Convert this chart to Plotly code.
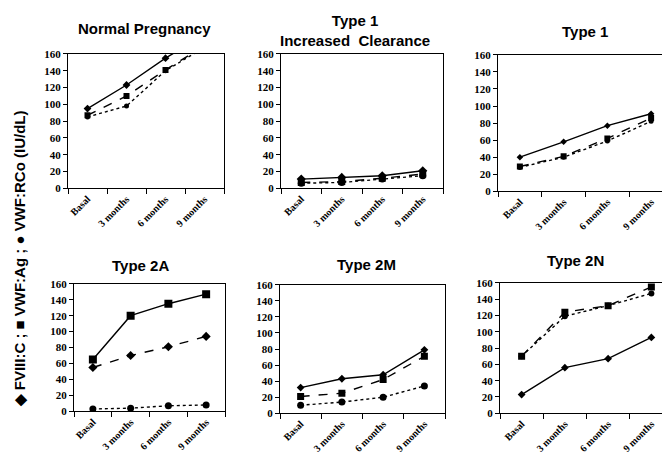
import plotly.graph_objects as go

W, H = 670, 460

categories = ["Basal", "3 months", "6 months", "9 months"]
panel_titles = ["Normal Pregnancy", "Type 1<br>Increased  Clearance", "Type 1",
                "Type 2A", "Type 2M", "Type 2N"]

# values (IU/dL) per panel
normal_fviii = [95, 123, 155, 183]
normal_vwf_ag = [87, 110, 141, 170]
normal_vwf_rco = [85, 98, 140, 168]

t1ic_fviii = [11, 13, 15, 21]
t1ic_vwf_ag = [7, 8, 12, 17]
t1ic_vwf_rco = [6, 7, 11, 15]

t1_fviii = [40, 58, 77, 91]
t1_vwf_ag = [29, 41, 62, 86]
t1_vwf_rco = [28, 40, 59, 82]

t2a_fviii = [55, 70, 81, 94]
t2a_vwf_ag = [65, 120, 135, 147]
t2a_vwf_rco = [3, 4, 7, 8]

t2m_fviii = [32, 43, 48, 79]
t2m_vwf_ag = [21, 25, 42, 71]
t2m_vwf_rco = [10, 14, 20, 34]

t2n_fviii = [23, 56, 67, 93]
t2n_vwf_ag = [70, 124, 132, 155]
t2n_vwf_rco = [70, 119, 132, 147]

y_ticks = [0, 20, 40, 60, 80, 100, 120, 140, 160]

panels_data = [
    (normal_fviii, normal_vwf_ag, normal_vwf_rco),
    (t1ic_fviii, t1ic_vwf_ag, t1ic_vwf_rco),
    (t1_fviii, t1_vwf_ag, t1_vwf_rco),
    (t2a_fviii, t2a_vwf_ag, t2a_vwf_rco),
    (t2m_fviii, t2m_vwf_ag, t2m_vwf_rco),
    (t2n_fviii, t2n_vwf_ag, t2n_vwf_rco),
]

# --- styling / layout (pixels) ---
boxes = [  # x0, x1, ytop, ybottom
    (60, 216, 41, 179),
    (273, 435, 41, 179),
    (490, 665, 42, 182),
    (66, 217, 277, 408),
    (272, 437, 278, 410),
    (492, 665, 276, 410),
]
title_pos = [(136, 15), (347, 17), (577, 18), (132, 258), (358, 257), (567, 253)]
# dash style per series (FVIII, Ag, RCo) per panel
dashes = [
    ("solid", "dash", "dot"),
    ("solid", "dash", "dot"),
    ("solid", "dash", "dot"),
    ("dash", "solid", "dot"),
    ("solid", "dash", "dot"),
    ("solid", "dash", "dot"),
]
symbols = ("diamond", "square", "circle")
msizes = [(6, 6, 5), (7, 7, 7), (5, 6, 5), (7, 8, 7), (6, 7, 7), (6, 7, 6)]
names = ("FVIII:C", "VWF:Ag", "VWF:RCo")

fig = go.Figure()
layout = dict(width=W, height=H, autosize=False,
              margin=dict(l=0, r=0, t=0, b=0),
              paper_bgcolor="white", plot_bgcolor="white",
              showlegend=False)
annotations = []

tickfont = dict(family="Liberation Serif", size=11, color="black", weight="bold")
xtickfont = dict(family="Liberation Serif", size=10, color="black", weight="bold")

for i, (data, box) in enumerate(zip(panels_data, boxes)):
    n = i + 1
    xa = "x" if n == 1 else f"x{n}"
    ya = "y" if n == 1 else f"y{n}"
    for j, vals in enumerate(data):
        fig.add_trace(go.Scatter(
            x=categories, y=vals, xaxis=xa, yaxis=ya, mode="lines+markers",
            name=names[j],
            line=dict(color="black", width=1.4, dash=dashes[i][j]),
            marker=dict(symbol=symbols[j], size=msizes[i][j], color="black"),
        ))
    x0, x1, yt, yb = box
    layout[f"xaxis{'' if n == 1 else n}"] = dict(
        domain=[x0 / W, x1 / W], anchor=ya, type="category",
        range=[-0.5, 3.5], tickson="boundaries", ticks="outside", ticklen=5,
        tickcolor="black", showline=True, linecolor="black", linewidth=1,
        mirror=True, showgrid=False, zeroline=False, tickangle=-45,
        tickfont=xtickfont, fixedrange=True)
    layout[f"yaxis{'' if n == 1 else n}"] = dict(
        domain=[1 - yb / H, 1 - yt / H], anchor=xa, range=[0, 160],
        tickvals=y_ticks, ticks="outside", ticklen=4, tickcolor="black",
        showline=True, linecolor="black", linewidth=1, mirror=True,
        showgrid=False, zeroline=False, tickfont=tickfont, fixedrange=True)
    tx, ty = title_pos[i]
    annotations.append(dict(
        text=panel_titles[i], x=tx / W, y=1 - ty / H, xref="paper", yref="paper",
        showarrow=False, xanchor="center", yanchor="middle",
        font=dict(family="Liberation Sans", size=15, color="black", weight="bold")))

annotations.append(dict(
    text="\u25c6 FVIII:C ; \u25a0 VWF:Ag ; \u25cf VWF:RCo (IU/dL)",
    x=11 / W, y=1 - 252 / H, xref="paper", yref="paper", showarrow=False,
    textangle=-90, xanchor="center", yanchor="middle",
    font=dict(family="Liberation Sans", size=15, color="black", weight="bold")))

layout["annotations"] = annotations
fig.update_layout(**layout)
fig.write_html("out.html")
